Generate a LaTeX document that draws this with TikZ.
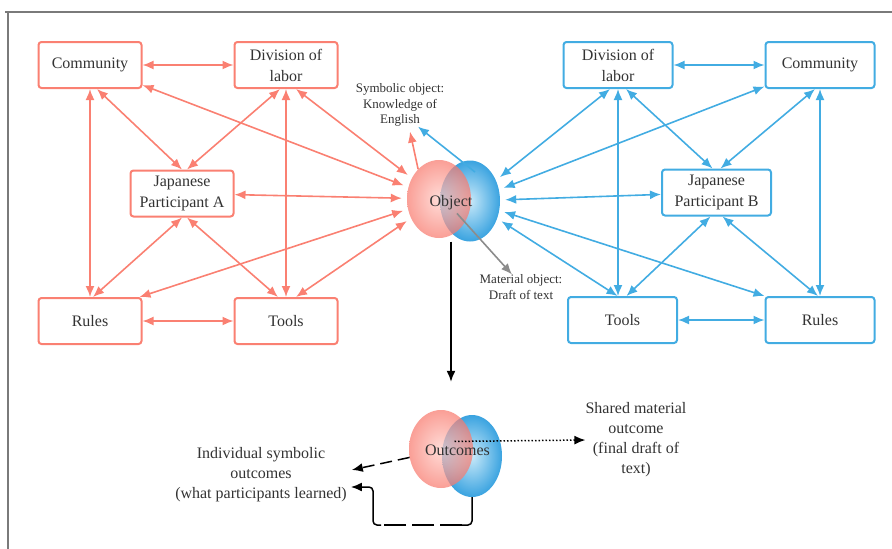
\documentclass[tikz,border=0pt]{standalone}
\usepackage{fontspec}
\setmainfont{Liberation Serif}
\usetikzlibrary{arrows.meta, shapes.geometric}
\definecolor{actred}{RGB}{250,128,114}
\definecolor{actblue}{RGB}{66,172,226}
\definecolor{inkgray}{RGB}{51,51,51}
\definecolor{redin}{RGB}{255,206,200}
\definecolor{redout}{RGB}{248,122,110}
\definecolor{bluein}{RGB}{200,233,249}
\definecolor{blueout}{RGB}{58,163,224}

\begin{document}
\begin{tikzpicture}[x=1pt, y=-1pt, >={Latex[length=11pt,width=9pt]},
  box/.style={draw, line width=2pt, rounded corners=3pt, fill=white,
    align=center, inner sep=2pt, minimum height=46pt, text=inkgray,
    font=\fontsize{16}{21}\selectfont},
  redbox/.style={box, draw=actred, minimum width=103pt},
  bluebox/.style={box, draw=actblue, minimum width=109pt},
  redlnk/.style={<->, draw=actred, line width=1.6pt},
  bluelnk/.style={<->, draw=actblue, line width=1.6pt},
  blob/.style={ellipse, inner sep=0pt, shading=radial},
  redblob/.style={blob, fill opacity=0.72, inner color=redin, outer color=redout},
  blueblob/.style={blob, inner color=bluein, outer color=blueout},
  note/.style={align=center, inner sep=0pt, text=inkgray,
    font=\fontsize{13}{15.5}\selectfont},
  bignote/.style={align=center, inner sep=0pt, text=inkgray,
    font=\fontsize{16}{20}\selectfont},
  outlnk/.style={->, line width=1.5pt, black}]
\useasboundingbox (0,0) rectangle (892,549);
\draw[black!52, line width=2pt] (8,549) -- (8,12) -- (5,12) -- (892,12);

\node[redbox] (comA) at (90,65) {Community};
\node[redbox] (divA) at (286,65) {Division of\\labor};
\node[redbox] (partA) at (182,193.5) {Japanese\\Participant A};
\node[redbox] (rulA) at (90,321) {Rules};
\node[redbox] (tooA) at (286,321) {Tools};

\node[bluebox] (divB) at (618,65) {Division of\\labor};
\node[bluebox] (comB) at (820,65) {Community};
\node[bluebox] (partB) at (716.5,192.5) {Japanese\\Participant B};
\node[bluebox] (tooB) at (622.5,320) {Tools};
\node[bluebox] (rulB) at (820,320) {Rules};

\node[blueblob, minimum width=60pt, minimum height=81pt] (objB) at (470,201) {};
\node[redblob, minimum width=64pt, minimum height=78pt] (objA) at (439,199) {};
\node[bignote, inner sep=3pt] (objtxt) at (451,203) {Object};

\node[note] (symb) at (400,105) {Symbolic object:\\Knowledge of\\English};
\node[note] (mat) at (521,287) {Material object:\\Draft of text};

\node[blueblob, minimum width=60pt, minimum height=82pt] (outB) at (472,456) {};
\node[redblob, minimum width=64pt, minimum height=78pt] (outA) at (441,449) {};
\node[bignote, inner sep=3pt] (outtxt) at (457.5,450) {Outcomes};

\node[bignote] (shared) at (636,440) {Shared material\\outcome\\(final draft of\\text)};
\node[bignote] (indiv) at (261,475) {Individual symbolic\\outcomes\\(what participants learned)};

\draw[redlnk] (comA) -- (divA);
\draw[redlnk] (comA) -- (rulA);
\draw[redlnk] ([xshift=7pt]comA.south) -- (partA.north);
\draw[redlnk] ([xshift=-6pt]divA.south) -- ([xshift=5pt]partA.north);
\draw[redlnk] (divA) -- (tooA);
\draw[redlnk] (partA.south) -- ([xshift=3pt]rulA.north);
\draw[redlnk] ([xshift=5pt]partA.south) -- ([xshift=-8pt]tooA.north);
\draw[redlnk] (rulA) -- (tooA);
\draw[redlnk, shorten >=5pt] (comA) -- (objA);
\draw[redlnk, shorten >=5pt] ([xshift=10pt]divA.south) -- (objA);
\draw[redlnk, shorten >=5pt] (partA) -- (objA);
\draw[redlnk, shorten >=5pt] ([xshift=-3pt]rulA.north east) -- (objA);
\draw[redlnk, shorten >=5pt] ([xshift=10pt]tooA.north) -- (objA);

\draw[bluelnk] (divB) -- (comB);
\draw[bluelnk] (divB.south) -- (divB.south |- tooB.north);
\draw[bluelnk] (comB) -- (rulB);
\draw[bluelnk] ([xshift=8pt]divB.south) -- ([xshift=-4pt]partB.north);
\draw[bluelnk] ([xshift=-5pt]comB.south) -- ([xshift=4pt]partB.north);
\draw[bluelnk] ([xshift=-6pt]partB.south) -- ([xshift=4pt]tooB.north);
\draw[bluelnk] ([xshift=6pt]partB.south) -- ([xshift=-2pt]rulB.north);
\draw[bluelnk] (tooB) -- (rulB);
\draw[bluelnk, shorten <=5pt] (objB) -- ([xshift=-8pt]divB.south);
\draw[bluelnk, shorten <=5pt] (objB) -- (comB);
\draw[bluelnk, shorten <=5pt] (objB) -- (partB);
\draw[bluelnk, shorten <=5pt] (objB) -- ([xshift=-5pt]tooB.north);
\draw[bluelnk, shorten <=5pt] (objB) -- (rulB.north west);

\draw[->, draw=actred, line width=1.6pt] (objA.125) -- ([xshift=10pt,yshift=-5pt]symb.south);
\draw[->, draw=actblue, line width=1.6pt] ([shift={(5pt,29pt)}]objB.center) -- ([xshift=18pt]symb.south);
\draw[->, draw=black!45, line width=1.6pt] ([xshift=6pt]objtxt.south) -- ([xshift=-9pt]mat.north);
\draw[outlnk, shorten >=28pt] (objtxt |- objB.south) -- (objtxt |- outA.north);

\draw[outlnk, dotted] ([xshift=-3pt]outtxt.north) -- (shared.west);
\draw[outlnk, dash pattern=on 12pt off 6pt, shorten >=5pt] (outA.195) -- ([yshift=4pt]indiv.east);
\coordinate (loopR) at (472,525);
\coordinate (loopL) at (373,525);
\draw[line width=1.5pt, rounded corners=4pt] (outB.south) -- (loopR) -- ([xshift=-10pt]loopR);
\draw[line width=1.5pt, dash pattern=on 22pt off 6pt] ([xshift=-10pt]loopR) -- ([xshift=8pt]loopL);
\draw[outlnk, rounded corners=4pt, shorten >=4pt] ([xshift=8pt]loopL) -- (loopL) |- ([yshift=-12pt]indiv.east);
\end{tikzpicture}
\end{document}
